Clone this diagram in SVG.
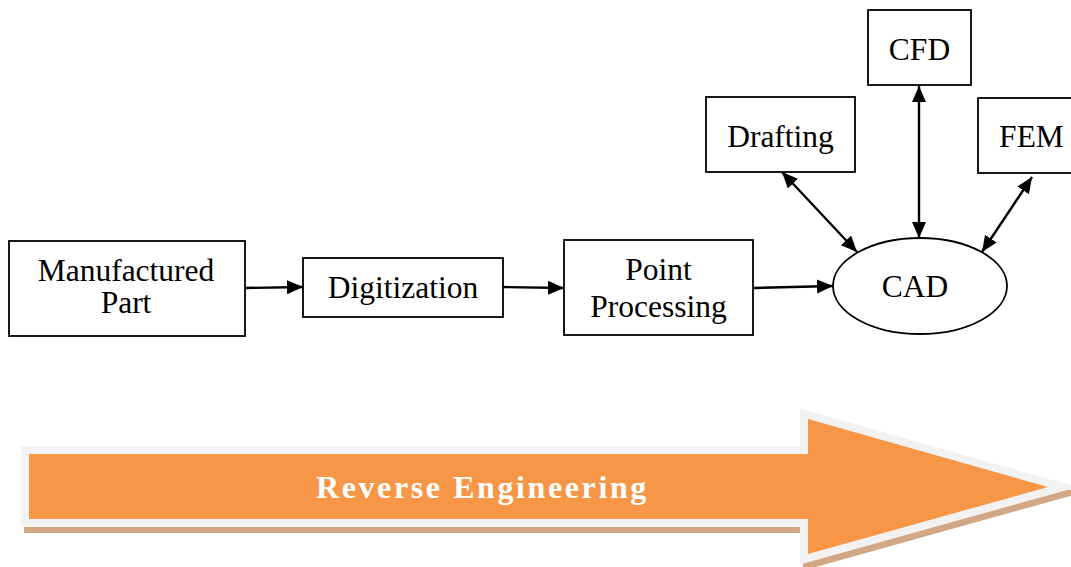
<svg xmlns="http://www.w3.org/2000/svg" width="1071" height="567" viewBox="0 0 1071 567">
  <style>
    .box { fill: #ffffff; stroke: #000000; stroke-width: 1.8; }
    .lbl { font-family: "Liberation Serif", "Times New Roman", serif; font-size: 31.5px; fill: #000000; text-anchor: middle; }
    .conn { fill: none; stroke: #000000; stroke-width: 2.4; }
    .banner-text { font-family: "Liberation Serif", "Times New Roman", serif; font-size: 32px; font-weight: bold; letter-spacing: 2.6px; fill: #ffffff; }
  </style>
  <defs>
    <marker id="arrow" markerUnits="userSpaceOnUse" markerWidth="17" markerHeight="15" refX="16" refY="7" orient="auto-start-reverse" viewBox="0 0 17 15">
      <path d="M0,0 L16,7 L0,14 Z" fill="#000000"/>
    </marker>
    <path id="banner-shape" d="M29,454 L808,454 L808,419 L1048,487 L808,554 L808,519 L29,519 Z"/>
  </defs>

  <rect width="1071" height="567" fill="#ffffff"/>

  <!-- Big process arrow -->
  <g id="banner">
    <use href="#banner-shape" transform="translate(3,6)" fill="#d2a884" stroke="#d2a884" stroke-width="16" stroke-linejoin="miter" stroke-miterlimit="10"/>
    <use href="#banner-shape" fill="#f79646" stroke="#f2f2f2" stroke-width="16" stroke-linejoin="miter" stroke-miterlimit="10" style="paint-order: stroke"/>
    <text class="banner-text" x="316" y="498">Reverse Engineering</text>
  </g>

  <!-- Connectors -->
  <g id="connectors">
    <line class="conn" x1="245" y1="288" x2="303" y2="287" marker-end="url(#arrow)"/>
    <line class="conn" x1="503" y1="287" x2="564" y2="288" marker-end="url(#arrow)"/>
    <line class="conn" x1="753" y1="288" x2="833" y2="286" marker-end="url(#arrow)"/>
    <line class="conn" x1="782" y1="172" x2="857" y2="252" marker-start="url(#arrow)" marker-end="url(#arrow)"/>
    <line class="conn" x1="919" y1="86" x2="919" y2="238" marker-start="url(#arrow)" marker-end="url(#arrow)"/>
    <line class="conn" x1="1032" y1="177" x2="982" y2="252" marker-start="url(#arrow)" marker-end="url(#arrow)"/>
  </g>

  <!-- Nodes -->
  <g id="manufactured-part">
    <rect class="box" x="9" y="241" width="236" height="95"/>
    <text class="lbl" x="126" y="281">Manufactured</text>
    <text class="lbl" x="126" y="313">Part</text>
  </g>
  <g id="digitization">
    <rect class="box" x="303" y="258" width="200" height="59"/>
    <text class="lbl" x="403" y="298">Digitization</text>
  </g>
  <g id="point-processing">
    <rect class="box" x="564" y="240" width="189" height="95"/>
    <text class="lbl" x="658.5" y="280">Point</text>
    <text class="lbl" x="658.5" y="317">Processing</text>
  </g>
  <g id="cad">
    <ellipse class="box" cx="920" cy="286" rx="87" ry="48"/>
    <text class="lbl" x="915" y="297">CAD</text>
  </g>
  <g id="drafting">
    <rect class="box" x="706" y="97" width="149" height="75"/>
    <text class="lbl" x="780.5" y="147">Drafting</text>
  </g>
  <g id="cfd">
    <rect class="box" x="868" y="10" width="103" height="75"/>
    <text class="lbl" x="919.5" y="60">CFD</text>
  </g>
  <g id="fem">
    <rect class="box" x="978" y="98" width="110" height="75"/>
    <text class="lbl" x="1031.5" y="147">FEM</text>
  </g>
</svg>
